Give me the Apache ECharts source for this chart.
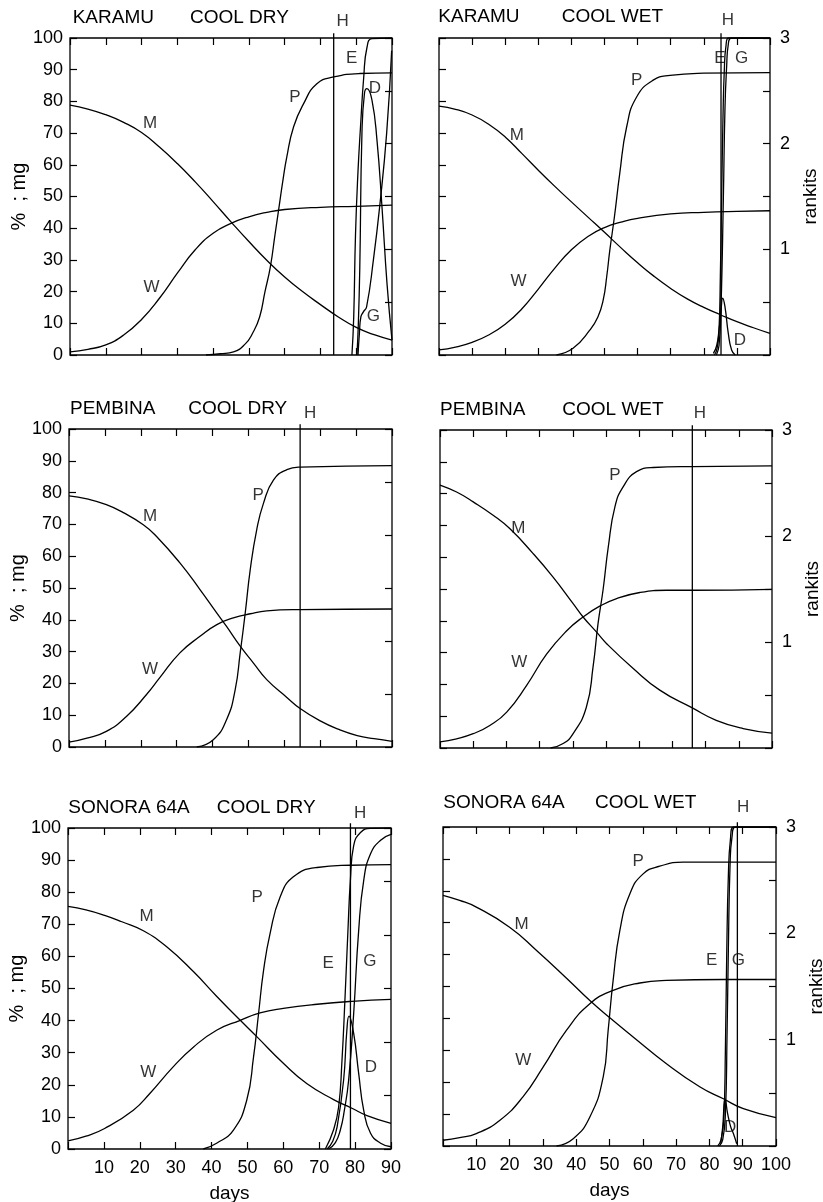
<!DOCTYPE html>
<html><head><meta charset="utf-8">
<script src="https://cdn.jsdelivr.net/npm/echarts@6/dist/echarts.min.js"></script>
<style>html,body{margin:0;padding:0;background:#fff}#c{width:823px;height:1202px}</style>
</head><body><div id="c"></div>
<script>
// ---------- data: [day, value] ----------
// KARAMU, COOL DRY
const karamuDryM = [[0,78.8],[5,77.6],[10,75.8],[15,73.4],[20,70.2],[25,65.6],[30,60.4],[35,54.6],[40,48.4],[45,42],[50,35.8],[55,29.9],[60,24.6],[65,20],[70,15.9],[75,12],[80,8.7],[85,6.4],[90,4.7]];
const karamuDryW = [[0,1],[5,1.8],[10,3.2],[15,6.3],[20,11.2],[25,17.9],[30,25.8],[35,33.2],[40,38.4],[45,41.5],[50,43.6],[55,45],[60,45.9],[70,46.6],[80,46.9],[90,47.3]];
const karamuDryP = [[38,0],[42,0.4],[45.7,1],[49,3.5],[51,6.8],[53,12],[54.5,20],[56,27.8],[57.3,38],[58.3,45.7],[59.5,55],[60.6,62.5],[62.5,72],[65.3,79.3],[69,85.6],[73.7,87.7],[81,88.8],[90,89]];
const karamuDryE = [[78.8,0],[79.3,12],[79.8,38],[80.5,58],[81.2,72],[82.1,87.7],[83,97],[84.4,99.8],[90,100]];
const karamuDryG = [[80.5,0],[80.9,7],[81.3,12],[82,13.6],[82.9,15.2],[84.8,30],[86.6,47.3],[88.5,69.9],[89.9,96]];
const karamuDryD = [[80.2,0],[80.6,10],[81,27.8],[81.6,70],[82.3,82.5],[83,84],[84.4,80.4],[85.8,67.8],[87.2,46.7],[88.6,22.6],[90,4.7]];
const karamuDryH = 73.7;
// KARAMU, COOL WET
const karamuWetM = [[0,78.5],[5,77.5],[10,75.7],[15,72.8],[20,68.8],[25,63.6],[30,58.3],[35,53.2],[40,48.3],[45,43.5],[50,38.7],[55,33.8],[60,29.1],[65,24.8],[70,21],[75,17.7],[80,15],[85,12.7],[90,10.5],[95,8.6],[100,6.8]];
const karamuWetW = [[0,1.6],[5,2.5],[10,4],[15,6.3],[20,9.7],[25,14.5],[30,20.8],[35,27.4],[40,33.2],[45,37.4],[50,40.2],[55,41.9],[60,43.1],[70,44.5],[80,45],[90,45.3],[100,45.5]];
const karamuWetP = [[35.5,0],[40.5,2.1],[45.6,7.9],[48,12],[49.6,17.3],[50.7,25],[51.6,33],[53,43.6],[54.6,57.2],[56.7,72],[59.7,81.4],[64.7,86.7],[69.8,88.2],[80,88.9],[100,89.1]];
const karamuWetE = [[83.2,0],[84,2],[84.6,8],[85,25],[85.4,50],[85.8,75],[86.2,90],[86.7,97.5],[87.5,100],[100,100]];
const karamuWetG = [[83.8,0],[84.6,3],[85.2,15],[85.9,49],[86.4,78],[86.9,91],[87.4,98],[88.4,100],[100,100]];
const karamuWetD = [[82.9,0.5],[83.9,3],[84.6,8],[85.2,14],[85.7,17.9],[86.4,15.2],[87.4,6.8],[88.4,1.6],[89.5,0]];
const karamuWetH = 85.2;
// PEMBINA, COOL DRY
const pembinaDryM = [[0,79],[5,78],[10.4,76.2],[15,73.8],[20.7,69.9],[24.4,66.2],[30.9,57.9],[36.5,49.5],[41.2,42.1],[43.9,37.9],[47.7,31.7],[51.4,26.4],[55.1,21.2],[60.7,15.6],[64.4,12.1],[70,8.2],[75,5.6],[80.3,3.6],[85,2.6],[90,1.8]];
const pembinaDryW = [[0,1.5],[5,2.8],[10.4,4.9],[16,9.6],[21.6,16.5],[25.3,21.8],[30.9,29.6],[36.5,34.8],[41.2,38.5],[45.8,40.6],[50.5,41.9],[55.1,42.8],[64.4,43.2],[90,43.4]];
const pembinaDryP = [[35.6,0],[40.2,2.3],[43.9,8.6],[46.3,18],[47.7,29.6],[49.1,42.1],[50.5,55.8],[52.3,68.3],[54.2,76.7],[57,84],[60.7,87.2],[64.4,88],[90,88.5]];
const pembinaDryH = 64.4;
// PEMBINA, COOL WET
const pembinaWetM = [[0,82.7],[5,80.5],[10,77.4],[16,73.2],[21,69],[28,61.2],[34,53.8],[40.1,45.4],[43.1,41.2],[47.1,36.5],[50.2,32.8],[58.2,25],[66.2,18.2],[76,12.6],[83.2,8.7],[91.3,6.1],[100,4.7]];
const pembinaWetW = [[0,1.9],[5,2.9],[10,4.5],[15,7.1],[20.1,11.3],[26.1,19.7],[32.1,29.5],[38.1,36.8],[43.1,41.2],[48.1,44.6],[53.2,47],[60.2,48.9],[68.2,49.6],[76,49.6],[100,49.9]];
const pembinaWetP = [[33.3,0],[37.1,1.4],[40.1,4.5],[44.1,12.9],[46.1,25.5],[47.6,39.1],[49.1,49.6],[50.7,63.3],[52.7,75.9],[55.2,82.2],[59.2,86.9],[64.2,88.2],[76,88.5],[100,88.7]];
const pembinaWetH = 76;
// SONORA 64A, COOL DRY
const sonoraDryM = [[0,75.6],[5,74.5],[10.2,72.8],[15,70.8],[21,68],[27.5,63],[35,55.2],[41.4,47.6],[48,40.1],[52.6,35],[60,26.7],[66.6,20.3],[74,15.4],[79.1,12.7],[83.3,10.4],[90,8]];
const sonoraDryW = [[0,2.5],[5,4],[10.2,6.4],[18.2,12.1],[22.8,17.3],[29.3,25.6],[35,31.8],[41.4,37],[48,40.1],[53.5,42.4],[60,43.8],[69.4,45.1],[79.1,46],[90,46.6]];
const sonoraDryP = [[37.7,0],[41.4,1.8],[46.1,5.9],[49.8,15.2],[51.7,28.7],[53.1,42.2],[54.5,55.7],[56.3,67.1],[59.1,78.5],[62.8,84.8],[69.4,87.7],[78.7,88.4],[90,88.6]];
const sonoraDryE = [[71.7,0],[74,6],[75.4,13],[76.3,26.7],[77.2,47.4],[78,68],[78.7,84],[79.6,94.5],[81.5,98.6],[84.3,99.9],[90,100]];
const sonoraDryG = [[72.6,0],[74.5,2],[75.9,6],[77,12],[78.2,21.5],[79.6,42.2],[81,68.2],[82.4,83.7],[84.3,92],[87.1,96.2],[90,98]];
const sonoraDryD = [[72.2,0],[73.8,2.5],[75,7],[76.8,21.5],[77.7,37],[78.3,41.4],[79.6,36],[81,23.5],[82.4,12],[84.3,4.9],[87.1,1.8],[90,0.7]];
const sonoraDryH = 78.7;
// SONORA 64A, COOL WET
const sonoraWetM = [[0,78.6],[5,77],[10,74.9],[20,68.6],[28.1,61.3],[37.1,52.6],[44.1,45.6],[50.1,40.2],[57.1,34.2],[67.1,25.8],[77.2,18.5],[84.2,14.8],[90.2,11.7],[100,8.9]];
const sonoraWetW = [[0,1.8],[5,2.6],[10,3.9],[17,8],[24,15.4],[30.1,24.8],[37.1,36.3],[44.1,44.6],[51.1,48.8],[59.1,51.1],[67.1,51.9],[84.2,52.2],[100,52.2]];
const sonoraWetP = [[34.1,0],[39.1,2.3],[44.1,9.1],[48.1,21.6],[49.6,36.3],[51.1,52],[53.1,67.5],[56.1,79],[60.1,85.3],[65.1,87.7],[72.1,89],[100,89]];
const sonoraWetE = [[82.5,0],[83.5,2],[84.3,8],[84.8,30],[85.2,60],[85.7,85],[86.3,96],[87.2,100],[100,100]];
const sonoraWetG = [[83,0],[84,2],[84.8,10],[85.3,35],[85.7,62],[86.2,88],[86.8,97],[87.8,100],[100,100]];
const sonoraWetD = [[83.4,0.7],[84,6],[84.7,14.8],[85.5,10],[86.4,6],[87.2,3.9],[88.2,0.7]];
const sonoraWetH = 88.4;

// curve letter anchors [letter, day, value]
const karamuDryNotes = [['M',22.4,73.1],['W',22.8,21.5],['P',62.9,81.4],['E',78.7,93.5],['D',85.2,84],['G',84.8,12.1],['H',76.2,105.3]];
const karamuWetNotes = [['M',23.5,69.3],['W',24,23.1],['P',59.7,86.7],['E',84.9,93.5],['G',91.4,93.5],['D',90.9,4.7],['H',87.3,105.6]];
const pembinaDryNotes = [['M',22.6,72.6],['W',22.6,24.4],['P',52.7,79.2],['H',67.2,105]];
const pembinaWetNotes = [['M',23.6,69.1],['W',23.9,27.1],['P',52.7,85.8],['H',78.3,105.3]];
const sonoraDryNotes = [['M',21.9,72.6],['W',22.4,23.8],['P',52.7,78.4],['E',72.5,58],['G',84.1,58.4],['D',84.4,25.6],['H',81.4,104.7]];
const sonoraWetNotes = [['M',23.6,69.6],['W',24.1,26.9],['P',58.6,89.1],['E',80.7,58.3],['G',88.7,58.3],['D',86.2,6],['H',90.1,106.3]];

const cultivars = ['KARAMU','KARAMU','PEMBINA','PEMBINA','SONORA 64A','SONORA 64A'];
const treatments = ['COOL DRY','COOL WET','COOL DRY','COOL WET','COOL DRY','COOL WET'];
const dayMax = [90,100,90,100,90,100];

const panels = [
  {curves:[karamuDryM,karamuDryW,karamuDryP,karamuDryE,karamuDryG,karamuDryD], h:karamuDryH, notes:karamuDryNotes},
  {curves:[karamuWetM,karamuWetW,karamuWetP,karamuWetE,karamuWetG,karamuWetD], h:karamuWetH, notes:karamuWetNotes},
  {curves:[pembinaDryM,pembinaDryW,pembinaDryP], h:pembinaDryH, notes:pembinaDryNotes},
  {curves:[pembinaWetM,pembinaWetW,pembinaWetP], h:pembinaWetH, notes:pembinaWetNotes},
  {curves:[sonoraDryM,sonoraDryW,sonoraDryP,sonoraDryE,sonoraDryG,sonoraDryD], h:sonoraDryH, notes:sonoraDryNotes},
  {curves:[sonoraWetM,sonoraWetW,sonoraWetP,sonoraWetE,sonoraWetG,sonoraWetD], h:sonoraWetH, notes:sonoraWetNotes}
];

// ---------- layout ----------
const layout = [
  {x:70, y:38, w:322, h:317, t1:72.7, t2:190, ty:11},
  {x:439,y:38, w:331, h:317, t1:438.3,t2:561.7,ty:10},
  {x:69, y:429,w:323, h:318, t1:70, t2:188.3,ty:402.7},
  {x:440,y:430,w:332, h:318, t1:440, t2:562.3,ty:403.3},
  {x:68, y:828,w:323, h:321, t1:68.3, t2:216.7,ty:801.7},
  {x:443,y:827,w:333, h:319, t1:443.3,t2:595, ty:796.7}
];
const FONT = '"Liberation Sans", Arial, sans-serif';
const INK = '#000';
const tick = {show:true, inside:true, length:7, lineStyle:{color:INK, width:1.2}};
const noLine = {show:false, onZero:false};

const grids=[], xAxes=[], yAxes=[], series=[], titles=[];
panels.forEach((p,i)=>{
  const L = layout[i];
  const isLeft = i%2===0, isBottom = i>=4;
  grids.push({left:L.x, top:L.y, width:L.w, height:L.h, show:true, borderColor:INK, borderWidth:1.3,
    backgroundColor:'transparent', containLabel:false, outerBoundsMode:'none'});
  titles.push({text:cultivars[i], left:L.t1, top:L.ty-3, padding:0, textStyle:{fontFamily:FONT, fontSize:19, fontWeight:'normal', color:INK}});
  titles.push({text:treatments[i], left:L.t2, top:L.ty-3, padding:0, textStyle:{fontFamily:FONT, fontSize:19, fontWeight:'normal', color:INK}});
  xAxes.push({gridIndex:i, type:'value', min:0, max:dayMax[i], interval:10, position:'bottom',
    axisLine:noLine, axisTick:tick, splitLine:{show:false},
    axisLabel:{show:isBottom, margin:10, fontSize:18, color:INK, fontFamily:FONT, formatter:v=>v===0?'':String(v)},
    name:isBottom?'days':'', nameLocation:'middle', nameGap:35,
    nameTextStyle:{fontSize:19, color:INK, fontFamily:FONT}});
  xAxes.push({gridIndex:i, type:'value', min:0, max:dayMax[i], interval:10, position:'top',
    axisLine:noLine, axisTick:tick, splitLine:{show:false}, axisLabel:{show:false}});
  yAxes.push({gridIndex:i, type:'value', min:0, max:100, interval:10, position:'left',
    axisLine:noLine, axisTick:tick, splitLine:{show:false},
    axisLabel:{show:isLeft, margin:7, fontSize:18, color:INK, fontFamily:FONT},
    name:isLeft?'%  ; mg':'', nameLocation:'middle', nameGap:41, nameRotate:90,
    nameTextStyle:{fontSize:20, color:INK, fontFamily:FONT}});
  yAxes.push({gridIndex:i, type:'value', min:0, max:3, interval:0.5, position:'right',
    axisLine:noLine, axisTick:tick, splitLine:{show:false},
    axisLabel:{show:!isLeft, margin:10, fontSize:18, color:INK, fontFamily:FONT,
      formatter:v=>(v>0 && Math.abs(v-Math.round(v))<1e-9)?String(Math.round(v)):''},
    name:!isLeft?'rankits':'', nameLocation:'middle', nameGap:31, nameRotate:90,
    nameTextStyle:{fontSize:19, color:INK, fontFamily:FONT}});
  p.curves.forEach(c=>{
    series.push({type:'line', xAxisIndex:2*i, yAxisIndex:2*i, data:c, smooth:0.5, smoothConstraint:false,
      symbol:'none', showSymbol:false, silent:true, lineStyle:{color:INK, width:1.3}});
  });
  series.push({type:'line', xAxisIndex:2*i, yAxisIndex:2*i, data:[[p.h,0],[p.h,101.5]], clip:false,
    symbol:'none', silent:true, lineStyle:{color:INK, width:1.3}});
  series.push({type:'scatter', xAxisIndex:2*i, yAxisIndex:2*i, clip:false, silent:true, symbolSize:1,
    itemStyle:{color:'rgba(0,0,0,0)'},
    data:p.notes.map(n=>({name:n[0], value:[n[1],n[2]]})),
    label:{show:true, position:'inside', formatter:'{b}', fontSize:17, color:INK, fontFamily:FONT}});
});

const chart = echarts.init(document.getElementById('c'), null, {renderer:'canvas'});
chart.setOption({animation:false, backgroundColor:'#fff', title:titles, grid:grids, xAxis:xAxes, yAxis:yAxes, series:series});
</script>
</body></html>
